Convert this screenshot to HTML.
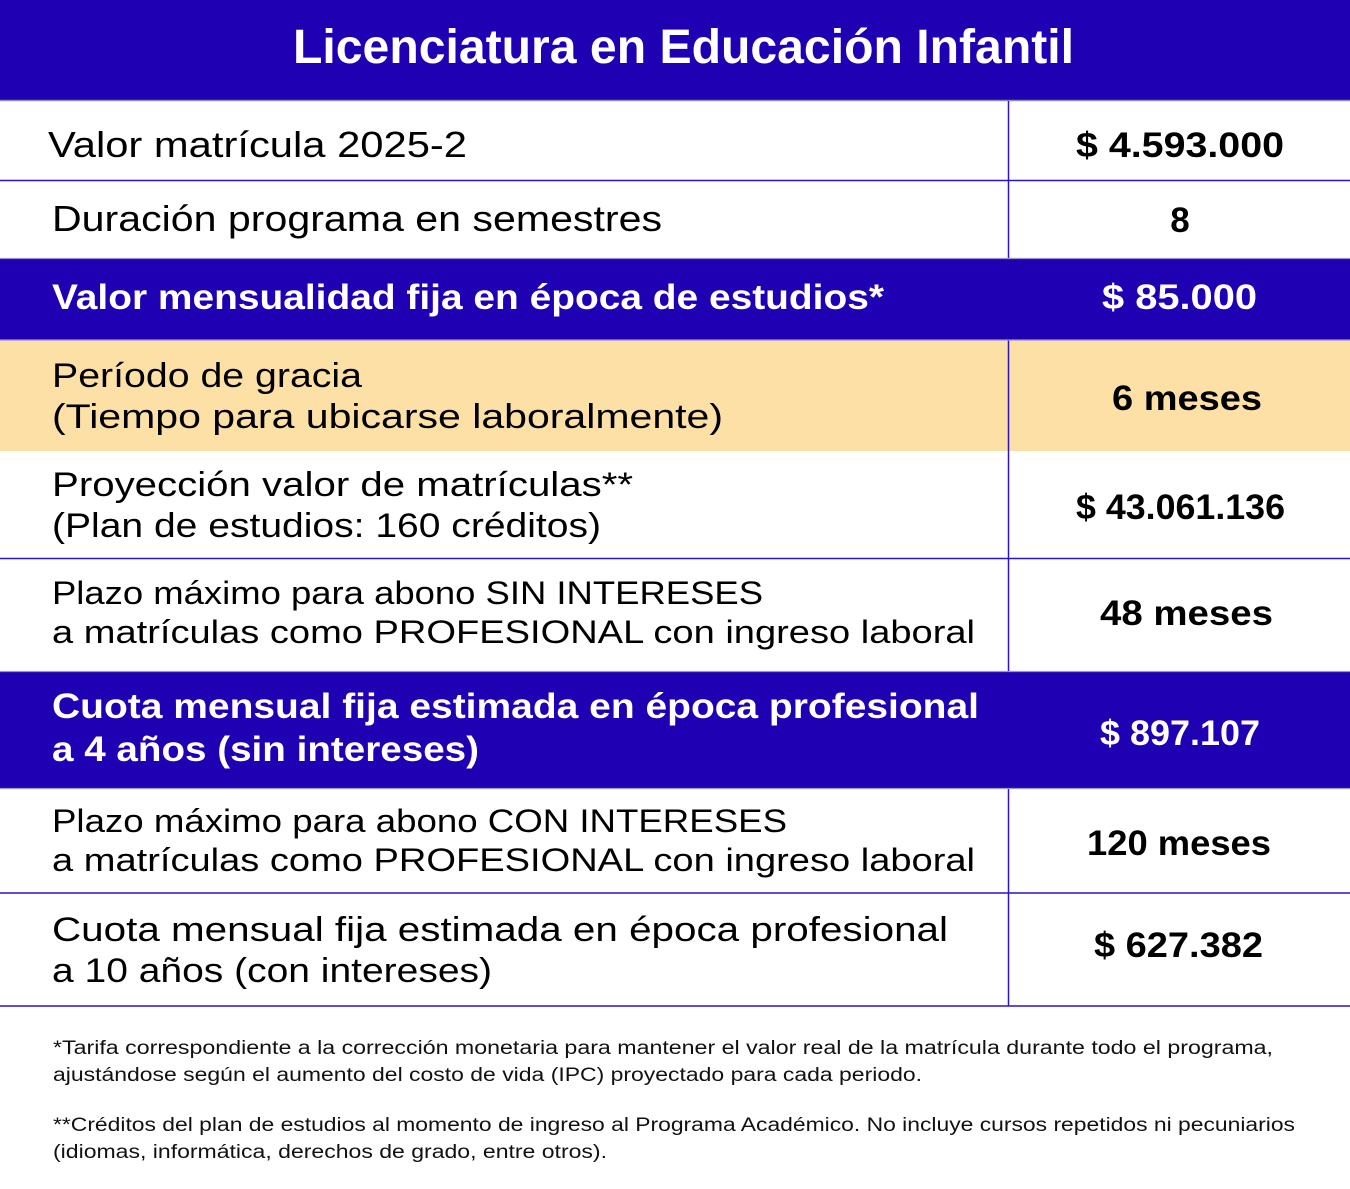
<!DOCTYPE html>
<html>
<head>
<meta charset="utf-8">
<style>
html,body{margin:0;padding:0;background:#fff;}
svg{display:block;}
text{font-family:"Liberation Sans",sans-serif;}
.b{font-weight:bold;}
</style>
</head>
<body>
<svg width="1350" height="1189" viewBox="0 0 1350 1189" xmlns="http://www.w3.org/2000/svg">
  <rect x="0" y="0" width="1350" height="1189" fill="#ffffff"/>
  <!-- header -->
  <rect x="0" y="0" width="1350" height="100" fill="#1f00b3"/>
  <line x1="0" y1="100.5" x2="1350" y2="100.5" stroke="#8f8aa8" stroke-width="1.5"/>
  <text x="293" y="63" class="b" font-size="48" fill="#fff" textLength="781" lengthAdjust="spacingAndGlyphs">Licenciatura en Educación Infantil</text>

  <!-- backgrounds -->
  <rect x="0" y="259" width="1350" height="81" fill="#1f00b3"/>
  <rect x="0" y="340" width="1350" height="111" fill="#fce0a6"/>
  <rect x="0" y="672" width="1350" height="116" fill="#1f00b3"/>

  <!-- grid lines -->
  <g stroke="#2a14c4" stroke-width="1.5">
    <line x1="0" y1="180.5" x2="1350" y2="180.5"/>
    <line x1="0" y1="558.5" x2="1350" y2="558.5"/>
    <line x1="0" y1="893" x2="1350" y2="893"/>
    <line x1="0" y1="1006" x2="1350" y2="1006"/>
    <line x1="1008.5" y1="101" x2="1008.5" y2="259"/>
    <line x1="1008.5" y1="340" x2="1008.5" y2="672"/>
    <line x1="1008.5" y1="788" x2="1008.5" y2="1006"/>
  </g>
  <g stroke="#9b94c9" stroke-width="1.2">
    <line x1="0" y1="258.5" x2="1350" y2="258.5"/>
    <line x1="0" y1="340" x2="1350" y2="340"/>
    <line x1="0" y1="671.5" x2="1350" y2="671.5"/>
    <line x1="0" y1="788.5" x2="1350" y2="788.5"/>
  </g>

  <!-- row 1 -->
  <text x="48" y="157" font-size="36" fill="#000" textLength="419" lengthAdjust="spacingAndGlyphs">Valor matrícula 2025-2</text>
  <text x="1076" y="157" class="b" font-size="35" fill="#000" textLength="208" lengthAdjust="spacingAndGlyphs">$ 4.593.000</text>

  <!-- row 2 -->
  <text x="52" y="231" font-size="36" fill="#000" textLength="610" lengthAdjust="spacingAndGlyphs">Duración programa en semestres</text>
  <text x="1180" y="232" class="b" font-size="35" fill="#000" text-anchor="middle">8</text>

  <!-- row 3 -->
  <text x="52" y="309" class="b" font-size="35" fill="#fff" textLength="832" lengthAdjust="spacingAndGlyphs">Valor mensualidad fija en época de estudios*</text>
  <text x="1102" y="309" class="b" font-size="35" fill="#fff" textLength="155" lengthAdjust="spacingAndGlyphs">$ 85.000</text>

  <!-- row 4 -->
  <text x="52" y="387" font-size="34" fill="#000" textLength="310" lengthAdjust="spacingAndGlyphs">Período de gracia</text>
  <text x="52" y="428" font-size="34" fill="#000" textLength="671" lengthAdjust="spacingAndGlyphs">(Tiempo para ubicarse laboralmente)</text>
  <text x="1112" y="410" class="b" font-size="35" fill="#000" textLength="150" lengthAdjust="spacingAndGlyphs">6 meses</text>

  <!-- row 5 -->
  <text x="52" y="496" font-size="34" fill="#000" textLength="581" lengthAdjust="spacingAndGlyphs">Proyección valor de matrículas**</text>
  <text x="52" y="537" font-size="34" fill="#000" textLength="549" lengthAdjust="spacingAndGlyphs">(Plan de estudios: 160 créditos)</text>
  <text x="1076" y="519" class="b" font-size="35" fill="#000" textLength="209" lengthAdjust="spacingAndGlyphs">$ 43.061.136</text>

  <!-- row 6 -->
  <text x="52" y="604" font-size="32" fill="#000" textLength="711" lengthAdjust="spacingAndGlyphs">Plazo máximo para abono SIN INTERESES</text>
  <text x="52" y="643" font-size="32" fill="#000" textLength="923" lengthAdjust="spacingAndGlyphs">a matrículas como PROFESIONAL con ingreso laboral</text>
  <text x="1100" y="625" class="b" font-size="35" fill="#000" textLength="173" lengthAdjust="spacingAndGlyphs">48 meses</text>

  <!-- row 7 -->
  <text x="52" y="718" class="b" font-size="35" fill="#fff" textLength="927" lengthAdjust="spacingAndGlyphs">Cuota mensual fija estimada en época profesional</text>
  <text x="52" y="761" class="b" font-size="35" fill="#fff" textLength="427" lengthAdjust="spacingAndGlyphs">a 4 años (sin intereses)</text>
  <text x="1100" y="745" class="b" font-size="35" fill="#fff" textLength="160" lengthAdjust="spacingAndGlyphs">$ 897.107</text>

  <!-- row 8 -->
  <text x="52" y="832" font-size="32" fill="#000" textLength="735" lengthAdjust="spacingAndGlyphs">Plazo máximo para abono CON INTERESES</text>
  <text x="52" y="871" font-size="32" fill="#000" textLength="923" lengthAdjust="spacingAndGlyphs">a matrículas como PROFESIONAL con ingreso laboral</text>
  <text x="1087" y="855" class="b" font-size="35" fill="#000" textLength="184" lengthAdjust="spacingAndGlyphs">120 meses</text>

  <!-- row 9 -->
  <text x="52" y="941" font-size="34" fill="#000" textLength="896" lengthAdjust="spacingAndGlyphs">Cuota mensual fija estimada en época profesional</text>
  <text x="52" y="982" font-size="34" fill="#000" textLength="440" lengthAdjust="spacingAndGlyphs">a 10 años (con intereses)</text>
  <text x="1094" y="957" class="b" font-size="35" fill="#000" textLength="169" lengthAdjust="spacingAndGlyphs">$ 627.382</text>

  <!-- footnotes -->
  <text x="53" y="1054" font-size="19" fill="#111" textLength="1220" lengthAdjust="spacingAndGlyphs">*Tarifa correspondiente a la corrección monetaria para mantener el valor real de la matrícula durante todo el programa,</text>
  <text x="53" y="1081" font-size="19" fill="#111" textLength="869" lengthAdjust="spacingAndGlyphs">ajustándose según el aumento del costo de vida (IPC) proyectado para cada periodo.</text>
  <text x="53" y="1131" font-size="19" fill="#111" textLength="1242" lengthAdjust="spacingAndGlyphs">**Créditos del plan de estudios al momento de ingreso al Programa Académico. No incluye cursos repetidos ni pecuniarios</text>
  <text x="53" y="1158" font-size="19" fill="#111" textLength="554" lengthAdjust="spacingAndGlyphs">(idiomas, informática, derechos de grado, entre otros).</text>
</svg>
</body>
</html>
